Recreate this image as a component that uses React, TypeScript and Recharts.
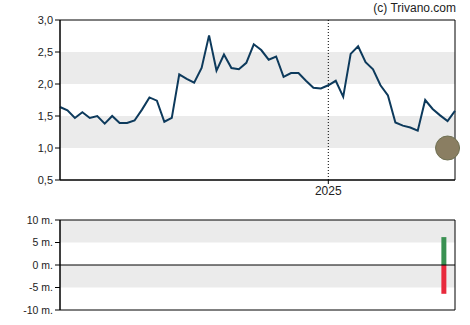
import React from "react";
import {
  LineChart,
  Line,
  BarChart,
  Bar,
  XAxis,
  YAxis,
  ReferenceArea,
  ReferenceLine,
  ReferenceDot,
} from "recharts";

// weekly price (index 0..53), 2025 starts at index 36
const prices = [
  1.64, 1.59, 1.47, 1.56, 1.47, 1.5, 1.38, 1.5, 1.39, 1.39, 1.43, 1.6, 1.79, 1.74,
  1.41, 1.47, 2.15, 2.08, 2.02, 2.25, 2.76, 2.21, 2.46, 2.25, 2.23, 2.33, 2.62,
  2.53, 2.38, 2.43, 2.11, 2.17, 2.17, 2.05, 1.94, 1.93, 1.98, 2.05, 1.8, 2.47,
  2.59, 2.34, 2.23, 1.98, 1.82, 1.4, 1.35, 1.32, 1.27, 1.75, 1.61, 1.51, 1.42,
  1.58,
];
const yearStartIndex = 36;
const yearLabel = "2025";
const priceTicks = [0.5, 1, 1.5, 2, 2.5, 3];
const markerIndex = 52;
const markerValue = 1.0;

// volume bars (millions)
const volumeIndex = 52;
const buyVolume = 6.2;
const sellVolume = -6.4;
const volumeTicks = [-10, -5, 0, 5, 10];

const priceData = prices.map((p, i) => ({ i, p }));
const volumeData = prices.map((_, i) => ({
  i,
  buy: i === volumeIndex ? buyVolume : null,
  sell: i === volumeIndex ? sellVolume : null,
}));

const font = "'Liberation Sans', Arial, sans-serif";
const band = "#ebebeb";

export default function App() {
  return (
    <div
      style={{
        position: "absolute",
        left: 0,
        top: 0,
        width: 470,
        height: 325,
        background: "#fff",
        fontFamily: font,
      }}
    >
      <div
        style={{
          position: "absolute",
          right: 14,
          top: 1,
          fontSize: 12,
          color: "#222",
        }}
      >
        (c) Trivano.com
      </div>

      <LineChart
        width={470}
        height={200}
        data={priceData}
        margin={{ top: 20, right: 15, bottom: 0, left: 0 }}
      >
        <XAxis
          dataKey="i"
          type="number"
          domain={[0, prices.length - 1]}
          ticks={[yearStartIndex]}
          tickFormatter={() => yearLabel}
          height={20}
          tickSize={4}
          axisLine={{ stroke: "#000" }}
          tickLine={{ stroke: "#000" }}
          tick={{ fill: "#222", fontSize: 12, fontFamily: font }}
        />
        <YAxis
          type="number"
          domain={[0.5, 3]}
          ticks={priceTicks}
          width={60}
          tickSize={5}
          axisLine={{ stroke: "#000" }}
          tickLine={{ stroke: "#000" }}
          tickFormatter={(v: number) => v.toFixed(1).replace(".", ",")}
          tick={{ fill: "#222", fontSize: 11, fontFamily: font }}
        />
        <ReferenceArea y1={2} y2={2.5} fill={band} fillOpacity={1} stroke="none" />
        <ReferenceArea y1={1} y2={1.5} fill={band} fillOpacity={1} stroke="none" />
        <ReferenceLine
          x={yearStartIndex}
          stroke="#000"
          strokeDasharray="1 2"
        />
        <ReferenceArea
          x1={0}
          x2={prices.length - 1}
          y1={0.5}
          y2={3}
          fill="none"
          stroke="#000"
          strokeWidth={1}
        />
        <Line
          dataKey="p"
          stroke="#0d3a5c"
          strokeWidth={2}
          dot={false}
          isAnimationActive={false}
        />
        <ReferenceDot
          x={markerIndex}
          y={markerValue}
          r={12}
          fill="#8a7e62"
          stroke="#6e7052"
          strokeWidth={1}
          ifOverflow="visible"
        />
      </LineChart>

      <BarChart
        width={470}
        height={120}
        data={volumeData}
        stackOffset="sign"
        barCategoryGap={0}
        margin={{ top: 20, right: 15, bottom: 10, left: 0 }}
      >
        <XAxis dataKey="i" hide />
        <YAxis
          type="number"
          domain={[-10, 10]}
          ticks={volumeTicks}
          width={60}
          tickSize={5}
          axisLine={{ stroke: "#000" }}
          tickLine={{ stroke: "#000" }}
          tickFormatter={(v: number) => `${v} m.`}
          tick={{ fill: "#222", fontSize: 10.5, fontFamily: font }}
        />
        <ReferenceArea y1={5} y2={10} fill={band} fillOpacity={1} stroke="none" />
        <ReferenceArea y1={-5} y2={0} fill={band} fillOpacity={1} stroke="none" />
        <ReferenceArea y1={-10} y2={10} fill="none" stroke="#000" />
        <Bar dataKey="buy" stackId="v" fill="#3a9152" barSize={5} isAnimationActive={false} />
        <Bar dataKey="sell" stackId="v" fill="#e8293c" barSize={5} isAnimationActive={false} />
        <ReferenceLine y={0} stroke="#000" />
      </BarChart>
    </div>
  );
}
